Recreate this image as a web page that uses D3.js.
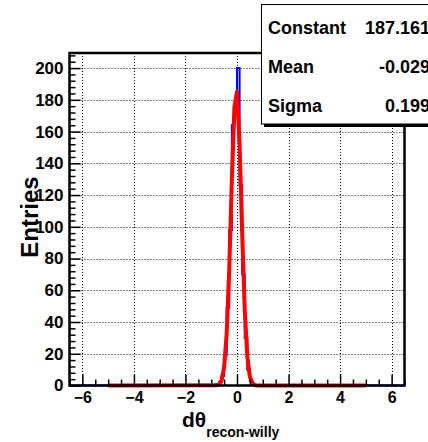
<!DOCTYPE html>
<html>
<head>
<meta charset="utf-8">
<script src="https://cdn.jsdelivr.net/npm/d3@7"></script>
<style>
  body { margin:0; background:#fff; }
  text { font-family:"Liberation Sans", Arial, Helvetica, sans-serif; font-weight:bold; fill:#000; }
</style>
</head>
<body>
<div id="chart"></div>
<script>
// x range of the histogram and the bin width
var xRange = [-6.5, 6.5];
var binWidth = 0.1;
// non-empty bins (left edge) and their entries
var binLeft  = [-0.8, -0.7, -0.6, -0.5, -0.4, -0.3, -0.2, -0.1, 0.0, 0.1, 0.2, 0.3, 0.4, 0.5, 0.6];
var binCount = [1, 2, 6, 19, 49, 98, 164, 178, 200, 126, 70, 30, 10, 3, 1];

// gaussian fit
var fitX = [-5, -0.8, -0.7, -0.6, -0.5, -0.4, -0.3, -0.2, -0.1, 0, 0.1, 0.2, 0.3, 0.4, 0.5, 0.6, 0.7, 0.8, 5];
var fitY = [0, 0.1, 0.6, 3.0, 11.4, 32.9, 74.1, 129.4, 175.6, 185.2, 151.7, 96.5, 47.7, 18.3, 5.5, 1.3, 0.2, 0, 0];

var xMajor = [-6, -4, -2, 0, 2, 4, 6];
var yMajor = [0, 20, 40, 60, 80, 100, 120, 140, 160, 180, 200];

var statNames  = ['Constant', 'Mean', 'Sigma'];
var statValues = ['187.161', '-0.029', '0.199'];

var W = 428, H = 442;
var svg = d3.select('#chart').append('svg').attr('width', W).attr('height', H);

var x = d3.scaleLinear().domain(xRange).range([69.5, 404.5]);
var y = d3.scaleLinear().domain([0, 209.5]).range([385.5, 53]);

// minor tick values
var xMinor = d3.range(xRange[0], xRange[1] + 0.001, 0.5).filter(function(v){ return xMajor.indexOf(v) < 0; });
var yMinor = d3.range(0, 209, 4).filter(function(v){ return v % 20 !== 0; });

// grid
var grid = svg.append('g').attr('stroke', '#000').attr('stroke-width', 1).attr('stroke-dasharray', '1,2');
grid.selectAll('line.gx').data(xMajor).enter().append('line')
  .attr('x1', function(d){ return Math.round(x(d)) + 0.5; })
  .attr('x2', function(d){ return Math.round(x(d)) + 0.5; })
  .attr('y1', y.range()[1]).attr('y2', y.range()[0]);
grid.selectAll('line.gy').data(yMajor.slice(1)).enter().append('line')
  .attr('y1', function(d){ return Math.round(y(d)) + 0.5; })
  .attr('y2', function(d){ return Math.round(y(d)) + 0.5; })
  .attr('x1', x.range()[0]).attr('x2', x.range()[1]);

// blue histogram as a step outline
var histPts = [[xRange[0], 0]];
for (var i = 0; i < binLeft.length; i++){
  histPts.push([binLeft[i], binCount[i]]);
  histPts.push([binLeft[i] + binWidth, binCount[i]]);
}
histPts.push([binLeft[binLeft.length - 1] + binWidth, 0]);
histPts.push([xRange[1], 0]);
var histPath = [];
histPts.forEach(function(p, k){
  if (k > 0) {
    var prev = histPts[k - 1];
    histPath.push([p[0], prev[1]]);
  }
  histPath.push(p);
});
svg.append('path')
  .attr('d', d3.line().x(function(d){ return x(d[0]); }).y(function(d){ return y(d[1]); })(histPath))
  .attr('fill', 'none').attr('stroke', '#0000ff').attr('stroke-width', 2);

// red fit
svg.append('path')
  .attr('d', d3.line().x(function(d){ return x(d); }).y(function(d, i){ return y(fitY[i]); })(fitX))
  .attr('fill', 'none').attr('stroke', '#ff0000').attr('stroke-width', 4)
  .attr('stroke-linejoin', 'round');

// axes
var xAxis = svg.append('g').attr('transform', 'translate(0,' + y(0) + ')')
  .call(d3.axisBottom(x).tickValues(xMajor).tickSize(-11).tickSizeOuter(0).tickPadding(6).tickFormat(d3.format('d')));
svg.append('g').attr('transform', 'translate(0,' + y(0) + ')')
  .call(d3.axisBottom(x).tickValues(xMinor).tickSize(-6).tickSizeOuter(0).tickFormat(''));
var yAxis = svg.append('g').attr('transform', 'translate(' + x.range()[0] + ',0)')
  .call(d3.axisLeft(y).tickValues(yMajor).tickSize(-11).tickSizeOuter(0).tickPadding(6).tickFormat(d3.format('d')));
svg.append('g').attr('transform', 'translate(' + x.range()[0] + ',0)')
  .call(d3.axisLeft(y).tickValues(yMinor).tickSize(-6).tickSizeOuter(0).tickFormat(''));

svg.selectAll('.tick line').attr('stroke', '#000').attr('stroke-width', 1.5);
svg.selectAll('.domain').attr('stroke', 'none');
xAxis.selectAll('text').style('font-size', '16px').attr('font-family', null);
yAxis.selectAll('text').style('font-size', '17px').attr('font-family', null);

// frame
svg.append('rect')
  .attr('x', x.range()[0]).attr('y', y.range()[1])
  .attr('width', x.range()[1] - x.range()[0]).attr('height', y.range()[0] - y.range()[1])
  .attr('fill', 'none').attr('stroke', '#000').attr('stroke-width', 2.5);

// axis titles
svg.append('text')
  .attr('transform', 'translate(38,217) rotate(-90)')
  .attr('text-anchor', 'middle')
  .style('font-size', '24px')
  .text('Entries');

var xt = svg.append('text').attr('x', 182).attr('y', 427).style('font-size', '21px');
xt.append('tspan').text('d\u03b8');
xt.append('tspan').attr('dy', 10).style('font-size', '14px').text('recon-willy');

// stats box
svg.append('rect').attr('x', 264).attr('y', 6).attr('width', 180).attr('height', 121).attr('fill', '#000');
svg.append('rect').attr('x', 261.5).attr('y', 4.5).attr('width', 180).attr('height', 119.5)
  .attr('fill', '#fff').attr('stroke', '#000').attr('stroke-width', 1);
var statY = [34, 73, 112];
statNames.forEach(function(n, i){
  svg.append('text').attr('x', 268).attr('y', statY[i]).style('font-size', '18px').text(n);
  svg.append('text').attr('x', 430).attr('y', statY[i]).attr('text-anchor', 'end').style('font-size', '18px').text(statValues[i]);
});
</script>
</body>
</html>
